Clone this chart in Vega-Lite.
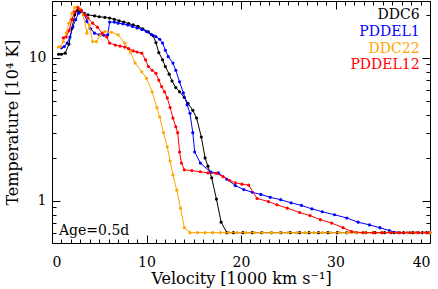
{
  "$schema": "https://vega.github.io/schema/vega-lite/v6.json",
  "autosize": "none",
  "width": 378,
  "height": 242,
  "padding": {"left": 52, "top": 1, "right": 8, "bottom": 46},
  "background": "white",
  "config": {
    "view": {"stroke": "black", "strokeWidth": 1},
    "axis": {"grid": false, "domain": false, "tickColor": "black", "labelColor": "black", "titleColor": "black", "labelFont": "DejaVu Serif", "titleFont": "DejaVu Serif", "labelFontSize": 14, "titleFontSize": 16, "titleFontWeight": "normal", "tickWidth": 1},
    "text": {"font": "DejaVu Serif"}
  },
  "datasets": {
    "DDC6": [
      {"v":0.7,"T":10.6},{"v":1.0,"T":10.6},{"v":1.4,"T":10.8},{"v":1.8,"T":12.5},{"v":2.1,"T":16},{"v":2.4,"T":20},{"v":2.7,"T":21.5},{"v":3.0,"T":21},{"v":3.4,"T":20.5},{"v":3.8,"T":20},{"v":4.5,"T":19.7},{"v":5.0,"T":19.4},{"v":5.6,"T":19.2},{"v":6.1,"T":19.0},{"v":6.6,"T":18.6},{"v":7.1,"T":18.2},{"v":7.6,"T":17.8},{"v":8.1,"T":17.4},{"v":8.6,"T":17.0},{"v":9.1,"T":16.6},{"v":9.6,"T":16.0},{"v":10.2,"T":15.2},{"v":10.7,"T":14.3},{"v":11.0,"T":12.8},{"v":11.3,"T":10.9},{"v":11.7,"T":9.7},{"v":12.0,"T":8.7},{"v":12.4,"T":7.7},{"v":12.7,"T":6.9},{"v":13.1,"T":6.2},{"v":13.5,"T":5.8},{"v":14.0,"T":5.3},{"v":14.4,"T":4.8},{"v":14.9,"T":4.3},{"v":15.3,"T":3.8},{"v":15.8,"T":2.8},{"v":16.2,"T":2.0},{"v":16.5,"T":1.75},{"v":16.9,"T":1.45},{"v":17.4,"T":1.03},{"v":17.9,"T":0.71},{"v":18.5,"T":0.6},{"v":19.2,"T":0.6},{"v":20.2,"T":0.6},{"v":21.2,"T":0.6},{"v":22.2,"T":0.6},{"v":23.2,"T":0.6},{"v":24.2,"T":0.6},{"v":25.2,"T":0.6},{"v":26.2,"T":0.6},{"v":27.2,"T":0.6},{"v":28.2,"T":0.6},{"v":29.2,"T":0.6},{"v":30.2,"T":0.6},{"v":31.2,"T":0.6},{"v":32.2,"T":0.6},{"v":33.2,"T":0.6},{"v":34.2,"T":0.6},{"v":35.2,"T":0.6},{"v":36.2,"T":0.6},{"v":37.2,"T":0.6},{"v":38.2,"T":0.6},{"v":39.2,"T":0.6},{"v":40.0,"T":0.6}
    ],
    "PDDEL1": [
      {"v":1.0,"T":11.8},{"v":1.3,"T":12.0},{"v":1.6,"T":12.7},{"v":1.9,"T":14.0},{"v":2.2,"T":16.5},{"v":2.5,"T":18.5},{"v":2.8,"T":20.5},{"v":3.1,"T":21.5},{"v":3.4,"T":20.5},{"v":3.7,"T":18.0},{"v":4.1,"T":16.0},{"v":4.5,"T":14.9},{"v":5.0,"T":14.5},{"v":5.5,"T":14.4},{"v":5.9,"T":14.5},{"v":6.1,"T":17.8},{"v":6.6,"T":17.8},{"v":7.0,"T":17.5},{"v":7.5,"T":17.3},{"v":8.0,"T":17.0},{"v":8.5,"T":16.6},{"v":9.0,"T":16.2},{"v":9.5,"T":15.8},{"v":10.0,"T":15.3},{"v":10.5,"T":14.6},{"v":11.0,"T":14.1},{"v":11.4,"T":13.5},{"v":11.7,"T":12.7},{"v":12.0,"T":11.3},{"v":12.3,"T":10.2},{"v":12.8,"T":9.2},{"v":13.1,"T":8.2},{"v":13.5,"T":6.8},{"v":13.9,"T":5.7},{"v":14.3,"T":4.7},{"v":14.6,"T":4.1},{"v":14.9,"T":3.0},{"v":15.1,"T":2.2},{"v":15.7,"T":1.84},{"v":16.8,"T":1.59},{"v":17.6,"T":1.57},{"v":18.5,"T":1.42},{"v":19.4,"T":1.28},{"v":20.3,"T":1.2},{"v":21.2,"T":1.15},{"v":22.1,"T":1.11},{"v":23.1,"T":1.06},{"v":24.2,"T":1.02},{"v":25.3,"T":0.97},{"v":26.4,"T":0.93},{"v":27.5,"T":0.88},{"v":28.6,"T":0.84},{"v":29.9,"T":0.80},{"v":31.2,"T":0.76},{"v":32.4,"T":0.71},{"v":33.6,"T":0.68},{"v":34.7,"T":0.65},{"v":35.7,"T":0.62},{"v":36.6,"T":0.6},{"v":37.6,"T":0.6},{"v":38.6,"T":0.6},{"v":39.6,"T":0.6}
    ],
    "DDC22": [
      {"v":0.65,"T":11.9},{"v":0.9,"T":12.0},{"v":1.2,"T":13.0},{"v":1.5,"T":15.0},{"v":1.8,"T":17.5},{"v":2.1,"T":20.5},{"v":2.4,"T":22.5},{"v":2.7,"T":22.8},{"v":3.0,"T":22.0},{"v":3.3,"T":20.0},{"v":3.7,"T":14.9},{"v":3.95,"T":17.0},{"v":4.3,"T":13.0},{"v":4.7,"T":13.0},{"v":5.1,"T":14.3},{"v":5.6,"T":15.3},{"v":6.3,"T":15.1},{"v":7.0,"T":14.5},{"v":7.7,"T":12.7},{"v":8.3,"T":11.0},{"v":8.8,"T":9.2},{"v":9.5,"T":8.0},{"v":10.0,"T":7.2},{"v":10.6,"T":5.8},{"v":11.1,"T":4.5},{"v":11.4,"T":3.87},{"v":11.8,"T":3.0},{"v":12.2,"T":2.39},{"v":12.5,"T":1.9},{"v":12.8,"T":1.52},{"v":13.2,"T":1.19},{"v":13.6,"T":0.89},{"v":14.0,"T":0.65},{"v":14.6,"T":0.6},{"v":15.4,"T":0.6},{"v":16.2,"T":0.6},{"v":17.0,"T":0.6},{"v":17.8,"T":0.6},{"v":18.7,"T":0.6},{"v":19.6,"T":0.6},{"v":20.5,"T":0.6},{"v":21.4,"T":0.6},{"v":22.3,"T":0.6},{"v":23.2,"T":0.6},{"v":24.1,"T":0.6},{"v":25.0,"T":0.6},{"v":25.9,"T":0.6},{"v":26.8,"T":0.6},{"v":27.7,"T":0.6},{"v":28.6,"T":0.6},{"v":29.5,"T":0.6},{"v":30.4,"T":0.6},{"v":31.3,"T":0.6},{"v":32.2,"T":0.6},{"v":33.1,"T":0.6},{"v":34.0,"T":0.6},{"v":34.9,"T":0.6},{"v":35.8,"T":0.6},{"v":36.7,"T":0.6},{"v":37.6,"T":0.6},{"v":38.5,"T":0.6},{"v":39.4,"T":0.6},{"v":40.0,"T":0.6}
    ],
    "PDDEL12": [
      {"v":1.2,"T":13.8},{"v":1.5,"T":14.0},{"v":1.8,"T":15.5},{"v":2.1,"T":18.5},{"v":2.4,"T":21},{"v":2.75,"T":22.4},{"v":3.1,"T":21.5},{"v":3.5,"T":20.0},{"v":3.8,"T":19.0},{"v":4.3,"T":17.5},{"v":4.8,"T":16.4},{"v":5.3,"T":14.9},{"v":5.8,"T":14.0},{"v":6.1,"T":12.7},{"v":6.7,"T":12.3},{"v":7.2,"T":12.1},{"v":7.7,"T":11.9},{"v":8.1,"T":11.6},{"v":8.6,"T":11.2},{"v":9.0,"T":11.0},{"v":9.5,"T":10.8},{"v":9.9,"T":9.7},{"v":10.2,"T":8.7},{"v":10.6,"T":8.2},{"v":11.0,"T":7.8},{"v":11.3,"T":7.0},{"v":11.6,"T":6.3},{"v":11.9,"T":5.8},{"v":12.2,"T":5.25},{"v":12.5,"T":4.5},{"v":12.8,"T":3.8},{"v":13.1,"T":3.3},{"v":13.3,"T":3.0},{"v":13.5,"T":2.2},{"v":13.7,"T":1.84},{"v":14.0,"T":1.65},{"v":14.8,"T":1.63},{"v":15.7,"T":1.60},{"v":16.5,"T":1.57},{"v":17.4,"T":1.56},{"v":18.1,"T":1.48},{"v":18.8,"T":1.39},{"v":19.4,"T":1.34},{"v":20.1,"T":1.31},{"v":20.8,"T":1.29},{"v":21.7,"T":1.04},{"v":22.9,"T":0.99},{"v":23.8,"T":0.94},{"v":24.9,"T":0.89},{"v":26.2,"T":0.83},{"v":27.3,"T":0.79},{"v":28.4,"T":0.74},{"v":29.6,"T":0.70},{"v":30.8,"T":0.65},{"v":31.7,"T":0.61},{"v":32.9,"T":0.6},{"v":34.0,"T":0.6},{"v":34.9,"T":0.6},{"v":35.9,"T":0.6},{"v":36.8,"T":0.6},{"v":37.9,"T":0.6},{"v":38.8,"T":0.6},{"v":39.8,"T":0.6}
    ],
    "legend": [
      {"label":"DDC6","lx":38.9,"ly":19.98},
      {"label":"PDDEL1","lx":38.9,"ly":15.2},
      {"label":"DDC22","lx":38.9,"ly":11.56},
      {"label":"PDDEL12","lx":38.9,"ly":8.93}
    ],
    "age": [{"label":"Age=0.5d","lx":0.74,"ly":0.617}]
  },
  "resolve": {"axis": {"x": "independent", "y": "independent"}},
  "layer": [
    {
      "data": {"name": "DDC6"},
      "mark": {"type": "line", "color": "black", "strokeWidth": 1, "point": {"filled": true, "size": 10, "color": "black"}},
      "encoding": {
        "x": {"field": "v", "type": "quantitative", "scale": {"domain": [0, 40], "nice": false},
          "axis": {"orient": "bottom", "title": "Velocity [1000 km s⁻¹]", "values": [0,10,20,30,40], "tickSize": 8, "offset": -8, "labelPadding": 12, "titleBaseline": "alphabetic", "titleY": 48, "format": "d"}},
        "y": {"field": "T", "type": "quantitative", "scale": {"type": "log", "domain": [0.508, 25], "nice": false},
          "axis": {"orient": "left", "title": "Temperature [10⁴ K]", "values": [1,10], "tickSize": 8, "offset": -8, "labelPadding": 6, "titlePadding": 8, "format": "~g"}}
      }
    },
    {
      "data": {"name": "PDDEL1"},
      "mark": {"type": "line", "color": "#0000ff", "strokeWidth": 1, "point": {"filled": true, "size": 10, "color": "#0000ff"}},
      "encoding": {
        "x": {"field": "v", "type": "quantitative",
          "axis": {"orient": "bottom", "title": null, "labels": false, "values": [1,2,3,4,5,6,7,8,9,11,12,13,14,15,16,17,18,19,21,22,23,24,25,26,27,28,29,31,32,33,34,35,36,37,38,39], "tickSize": 4, "offset": -4}},
        "y": {"field": "T", "type": "quantitative",
          "axis": {"orient": "left", "title": null, "labels": false, "values": [0.6,0.7,0.8,0.9,2,3,4,5,6,7,8,9,20], "tickSize": 4, "offset": -4}}
      }
    },
    {
      "data": {"name": "DDC22"},
      "mark": {"type": "line", "color": "#ffa500", "strokeWidth": 1, "point": {"filled": true, "size": 10, "color": "#ffa500"}},
      "encoding": {
        "x": {"field": "v", "type": "quantitative",
          "axis": {"orient": "top", "title": null, "labels": false, "values": [0,10,20,30,40], "tickSize": 8, "offset": -8}},
        "y": {"field": "T", "type": "quantitative",
          "axis": {"orient": "right", "title": null, "labels": false, "values": [1,10], "tickSize": 8, "offset": -8}}
      }
    },
    {
      "data": {"name": "PDDEL12"},
      "mark": {"type": "line", "color": "#ff0000", "strokeWidth": 1, "point": {"filled": true, "size": 10, "color": "#ff0000"}},
      "encoding": {
        "x": {"field": "v", "type": "quantitative",
          "axis": {"orient": "top", "title": null, "labels": false, "values": [1,2,3,4,5,6,7,8,9,11,12,13,14,15,16,17,18,19,21,22,23,24,25,26,27,28,29,31,32,33,34,35,36,37,38,39], "tickSize": 4, "offset": -4}},
        "y": {"field": "T", "type": "quantitative",
          "axis": {"orient": "right", "title": null, "labels": false, "values": [0.6,0.7,0.8,0.9,2,3,4,5,6,7,8,9,20], "tickSize": 4, "offset": -4}}
      }
    },
    {
      "data": {"name": "legend"},
      "mark": {"type": "text", "align": "right", "baseline": "middle", "fontSize": 14, "font": "DejaVu Serif"},
      "encoding": {
        "x": {"field": "lx", "type": "quantitative", "axis": null},
        "y": {"field": "ly", "type": "quantitative", "axis": null},
        "text": {"field": "label"},
        "color": {"field": "label", "type": "nominal", "scale": {"domain": ["DDC6","PDDEL1","DDC22","PDDEL12"], "range": ["#000000","#0000ff","#ffa500","#ff0000"]}, "legend": null}
      }
    },
    {
      "data": {"name": "age"},
      "mark": {"type": "text", "align": "left", "baseline": "middle", "fontSize": 14, "font": "DejaVu Serif", "color": "black"},
      "encoding": {
        "x": {"field": "lx", "type": "quantitative", "axis": null},
        "y": {"field": "ly", "type": "quantitative", "axis": null},
        "text": {"field": "label"}
      }
    }
  ]
}
